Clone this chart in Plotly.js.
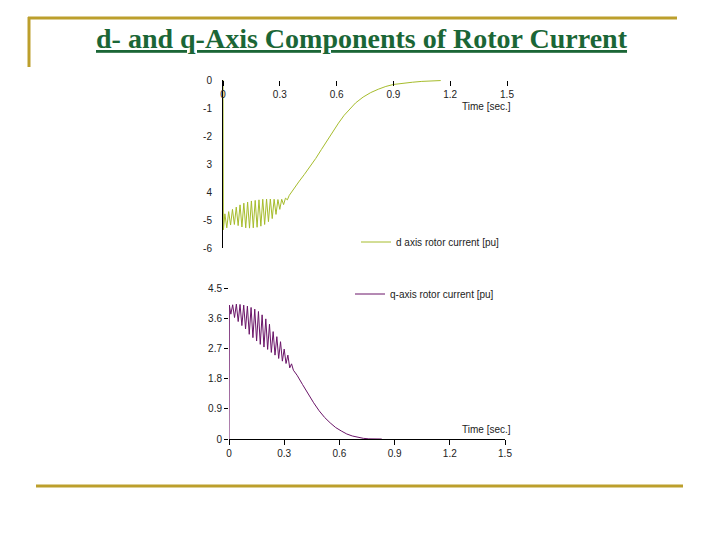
<!DOCTYPE html>
<html>
<head>
<meta charset="utf-8">
<script src="https://cdn.plot.ly/plotly-3.0.1.min.js"></script>
<style>html,body{margin:0;padding:0;background:#fff;}#chart{width:720px;height:540px;}</style>
</head>
<body>
<div id="chart"></div>
<script>
// d-axis rotor current [pu] vs time [s]
const tD = [0, 0.002, 0.01, 0.02, 0.03, 0.04, 0.05, 0.06, 0.07, 0.08, 0.09, 0.10,
  0.11, 0.12, 0.13, 0.14, 0.15, 0.16, 0.17, 0.18, 0.19, 0.20, 0.21, 0.22, 0.23,
  0.24, 0.25, 0.26, 0.27, 0.28, 0.29, 0.30, 0.31, 0.32, 0.33, 0.34, 0.35,
  0.37, 0.40, 0.43, 0.46, 0.49, 0.52, 0.55, 0.58, 0.61, 0.64, 0.67, 0.70, 0.74,
  0.78, 0.82, 0.86, 0.90, 0.95, 1.00, 1.05, 1.10, 1.15];
const iD = [0, -5.35, -4.78, -5.28, -4.70, -5.18, -4.62, -5.16, -4.54, -5.20, -4.46, -5.25,
  -4.40, -5.28, -4.36, -5.29, -4.32, -5.28, -4.30, -5.26, -4.28, -5.22, -4.26, -5.16, -4.25,
  -5.06, -4.25, -4.95, -4.26, -4.80, -4.27, -4.62, -4.26, -4.45, -4.22, -4.28, -4.12,
  -3.92, -3.64, -3.37, -3.10, -2.80, -2.48, -2.16, -1.84, -1.54, -1.26, -1.02, -0.82, -0.61,
  -0.45, -0.33, -0.23, -0.16, -0.11, -0.08, -0.05, -0.03, -0.02];

// q-axis rotor current [pu] vs time [s]
const tQ = [0, 0.002, 0.01, 0.02, 0.03, 0.04, 0.05, 0.06, 0.07, 0.08, 0.09, 0.10,
  0.11, 0.12, 0.13, 0.14, 0.15, 0.16, 0.17, 0.18, 0.19, 0.20, 0.21, 0.22, 0.23,
  0.24, 0.25, 0.26, 0.27, 0.28, 0.29, 0.30, 0.31, 0.32, 0.33, 0.34, 0.35,
  0.37, 0.40, 0.43, 0.46, 0.49, 0.52, 0.55, 0.58, 0.61, 0.64, 0.67, 0.70, 0.73,
  0.76, 0.80, 0.83];
const iQ = [0, 3.99, 3.72, 4.00, 3.62, 4.02, 3.50, 4.01, 3.38, 3.99, 3.28, 3.96,
  3.12, 3.92, 3.02, 3.87, 2.92, 3.80, 2.82, 3.70, 2.74, 3.58, 2.67, 3.42, 2.58,
  3.20, 2.50, 3.05, 2.40, 2.90, 2.32, 2.68, 2.25, 2.50, 2.12, 2.24, 2.05,
  1.90, 1.62, 1.33, 1.08, 0.84, 0.64, 0.48, 0.34, 0.24, 0.15, 0.09, 0.05, 0.02,
  0.005, 0, 0];

const timeTicks = [0, 0.3, 0.6, 0.9, 1.2, 1.5];
const timeTickText = ['0', '0.3', '0.6', '0.9', '1.2', '1.5'];
const dTicks = [0, -1, -2, -3, -4, -5, -6];
const dTickText = ['0', '-1', '-2', '3', '4', '-5', '-6'];
const qTicks = [0, 0.9, 1.8, 2.7, 3.6, 4.5];
const qTickText = ['0', '0.9', '1.8', '2.7', '3.6', '4.5'];

const dName = 'd axis rotor current [pu]';
const qName = 'q-axis rotor current [pu]';
const titleText = 'd- and q-Axis Components of Rotor Current';
const xLabel = 'Time [sec.]';

const W = 720, H = 540;
const px = v => v / W;
const py = v => 1 - v / H;

const tickFont = {family: 'Liberation Sans, Arial, sans-serif', size: 10, color: '#222'};
const gold = '#BC9F2C';

const traces = [
  {x: tD, y: iD, type: 'scatter', mode: 'lines', name: dName,
   line: {color: '#A6BC2C', width: 1}, xaxis: 'x', yaxis: 'y', legend: 'legend'},
  {x: tQ, y: iQ, type: 'scatter', mode: 'lines', name: qName,
   line: {color: '#6A1468', width: 1}, xaxis: 'x2', yaxis: 'y2', legend: 'legend2'}
];

const layout = {
  width: W, height: H, autosize: false,
  margin: {l: 0, r: 0, t: 0, b: 0, pad: 0},
  paper_bgcolor: '#fff', plot_bgcolor: 'rgba(0,0,0,0)',
  font: tickFont,
  showlegend: true,
  xaxis: {domain: [px(223), px(507)], range: [0, 1.5], anchor: 'free', position: py(80), side: 'bottom',
    tickvals: timeTicks, ticktext: timeTickText, ticks: 'outside', ticklen: 5, tickcolor: '#000',
    showline: false, showgrid: false, zeroline: false, tickfont: tickFont, fixedrange: true},
  yaxis: {domain: [py(248), py(80)], range: [-6, 0], anchor: 'x',
    tickvals: dTicks, ticktext: dTickText, ticks: 'outside', ticklen: 8, tickcolor: 'rgba(0,0,0,0)',
    showline: true, linecolor: '#000', linewidth: 1, layer: 'below traces',
    showgrid: false, zeroline: false, tickfont: tickFont, fixedrange: true},
  xaxis2: {domain: [px(229), px(505)], range: [0, 1.5], anchor: 'y2',
    tickvals: timeTicks, ticktext: timeTickText, ticks: 'outside', ticklen: 5, tickcolor: '#000',
    showline: true, linecolor: '#000', linewidth: 1, layer: 'below traces',
    showgrid: false, zeroline: false, tickfont: tickFont, fixedrange: true},
  yaxis2: {domain: [py(439), py(288)], range: [0, 4.5], anchor: 'x2',
    tickvals: qTicks, ticktext: qTickText, ticks: 'outside', ticklen: 4, tickcolor: '#000',
    showline: false, showgrid: false, zeroline: false, tickfont: tickFont, fixedrange: true},
  legend: {x: px(356), y: py(242), xanchor: 'left', yanchor: 'middle', bgcolor: 'rgba(0,0,0,0)',
    font: tickFont, borderwidth: 0},
  legend2: {x: px(350), y: py(294), xanchor: 'left', yanchor: 'middle', bgcolor: 'rgba(0,0,0,0)',
    font: tickFont, borderwidth: 0},
  annotations: [
    {text: '<u>' + titleText + '</u>', xref: 'paper', yref: 'paper', x: px(362), y: py(38),
     xanchor: 'center', yanchor: 'middle', showarrow: false,
     font: {family: 'Liberation Serif, Times New Roman, serif', size: 28, color: '#1B6636', weight: 'bold'}},
    {text: xLabel, xref: 'paper', yref: 'paper', x: px(513), y: py(106), xanchor: 'right', yanchor: 'middle',
     showarrow: false, font: tickFont},
    {text: xLabel, xref: 'paper', yref: 'paper', x: px(513), y: py(429), xanchor: 'right', yanchor: 'middle',
     showarrow: false, font: tickFont}
  ],
  shapes: [
    {type: 'line', xref: 'paper', yref: 'paper', x0: px(29), x1: px(29), y0: py(17), y1: py(67),
     line: {color: gold, width: 3}},
    {type: 'line', xref: 'paper', yref: 'paper', x0: px(28), x1: px(677), y0: py(18), y1: py(18),
     line: {color: gold, width: 3}},
    {type: 'line', xref: 'paper', yref: 'paper', x0: px(36), x1: px(683), y0: py(486), y1: py(486),
     line: {color: gold, width: 3}}
  ]
};

Plotly.newPlot('chart', traces, layout, {displayModeBar: false, staticPlot: true});
</script>
</body>
</html>
